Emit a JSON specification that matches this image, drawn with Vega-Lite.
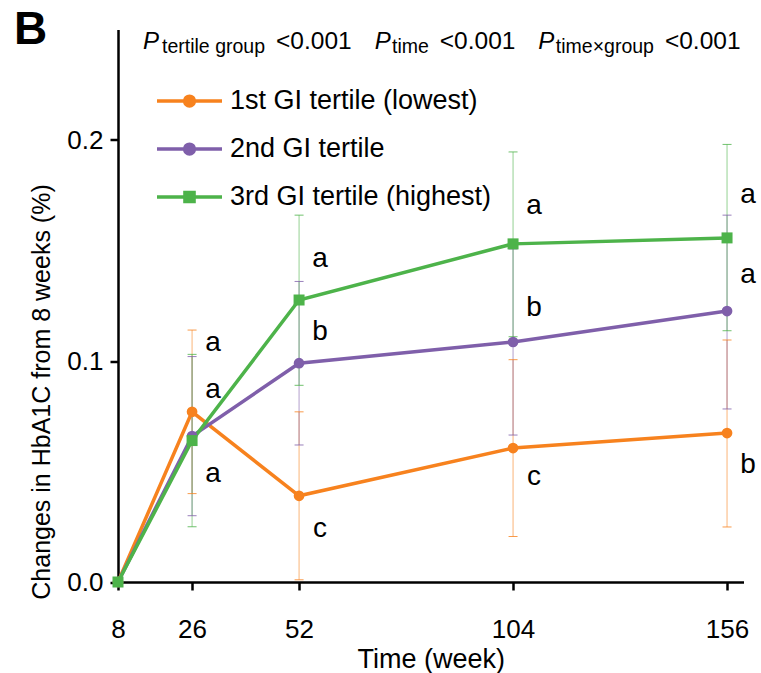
{
  "$schema": "https://vega.github.io/schema/vega-lite/v6.json",
  "width": 625.5,
  "height": 552.5,
  "autosize": "none",
  "padding": {"left": 118, "top": 29.5, "right": 17.5, "bottom": 91},
  "background": "white",
  "config": {
    "view": {"stroke": null},
    "font": "Liberation Sans",
    "axis": {"grid": false}
  },
  "title": {
    "text": "B",
    "anchor": "start",
    "frame": "group",
    "fontSize": 46,
    "fontWeight": "bold",
    "font": "Liberation Sans",
    "color": "black",
    "baseline": "alphabetic",
    "offset": 0,
    "dx": -104,
    "dy": 61.5
  },
  "datasets": {
    "series": [
      {"week": 8, "group": "1st GI tertile (lowest)", "value": 0},
      {"week": 26, "group": "1st GI tertile (lowest)", "value": 0.077, "lo": 0.040, "hi": 0.114},
      {"week": 52, "group": "1st GI tertile (lowest)", "value": 0.039, "lo": 0.001, "hi": 0.077},
      {"week": 104, "group": "1st GI tertile (lowest)", "value": 0.0606, "lo": 0.0206, "hi": 0.1006},
      {"week": 156, "group": "1st GI tertile (lowest)", "value": 0.0674, "lo": 0.0249, "hi": 0.1095},
      {"week": 8, "group": "2nd GI tertile", "value": 0},
      {"week": 26, "group": "2nd GI tertile", "value": 0.066, "lo": 0.030, "hi": 0.102},
      {"week": 52, "group": "2nd GI tertile", "value": 0.099, "lo": 0.062, "hi": 0.136},
      {"week": 104, "group": "2nd GI tertile", "value": 0.1086, "lo": 0.0665, "hi": 0.1507},
      {"week": 156, "group": "2nd GI tertile", "value": 0.1226, "lo": 0.0783, "hi": 0.166},
      {"week": 8, "group": "3rd GI tertile (highest)", "value": 0},
      {"week": 26, "group": "3rd GI tertile (highest)", "value": 0.064, "lo": 0.025, "hi": 0.103},
      {"week": 52, "group": "3rd GI tertile (highest)", "value": 0.1276, "lo": 0.089, "hi": 0.166},
      {"week": 104, "group": "3rd GI tertile (highest)", "value": 0.153, "lo": 0.111, "hi": 0.1946},
      {"week": 156, "group": "3rd GI tertile (highest)", "value": 0.1557, "lo": 0.1137, "hi": 0.198}
    ],
    "letters": [
      {"week": 26, "letter": "a", "ypos": 0.108},
      {"week": 26, "letter": "a", "ypos": 0.087},
      {"week": 26, "letter": "a", "ypos": 0.049},
      {"week": 52, "letter": "a", "ypos": 0.146},
      {"week": 52, "letter": "b", "ypos": 0.113},
      {"week": 52, "letter": "c", "ypos": 0.024},
      {"week": 104, "letter": "a", "ypos": 0.170},
      {"week": 104, "letter": "b", "ypos": 0.124},
      {"week": 104, "letter": "c", "ypos": 0.0475},
      {"week": 156, "letter": "a", "ypos": 0.175},
      {"week": 156, "letter": "a", "ypos": 0.139},
      {"week": 156, "letter": "b", "ypos": 0.053}
    ],
    "pvalues": [
      {"week": 14.1, "kind": "P", "piece": "P"},
      {"week": 18.7, "kind": "sub", "piece": "tertile group"},
      {"week": 46.4, "kind": "val", "piece": "<0.001"},
      {"week": 70.4, "kind": "P", "piece": "P"},
      {"week": 74.6, "kind": "sub", "piece": "time"},
      {"week": 86.2, "kind": "val", "piece": "<0.001"},
      {"week": 110.1, "kind": "P", "piece": "P"},
      {"week": 114.4, "kind": "sub", "piece": "time×group"},
      {"week": 140.9, "kind": "val", "piece": "<0.001"}
    ]
  },
  "layer": [
    {
      "data": {"name": "series"},
      "mark": {"type": "line", "strokeWidth": 3.5},
      "encoding": {
        "x": {"field": "week", "type": "quantitative", "scale": {"domain": [8, 160], "nice": false, "zero": false},
          "axis": {
            "values": [8, 26, 52, 104, 156], "title": "Time (week)",
            "titleFontSize": 27, "titleFontWeight": "normal", "titleColor": "black", "titlePadding": 4,
            "labelFontSize": 26, "labelColor": "black", "labelPadding": 26, "labelFlush": false,
            "domainColor": "black", "domainWidth": 2.5, "tickColor": "black", "tickWidth": 2.5, "tickSize": 8
          }
        },
        "y": {
          "field": "value", "type": "quantitative", "scale": {"domain": [0, 0.25], "nice": false},
          "axis": {
            "values": [0, 0.1, 0.2], "format": ".1f", "title": "Changes in HbA1C from 8 weeks (%)",
            "titleFontSize": 25, "titleFontWeight": "normal", "titleColor": "black", "titlePadding": 12, "titleY": 362,
            "labelFontSize": 26, "labelColor": "black", "labelPadding": 7,
            "domainColor": "black", "domainWidth": 2.5, "tickColor": "black", "tickWidth": 2.5, "tickSize": 8
          }
        },
        "color": {
          "field": "group", "type": "nominal",
          "scale": {"domain": ["1st GI tertile (lowest)", "2nd GI tertile", "3rd GI tertile (highest)"], "range": ["#F7821E", "#7F5FAA", "#4DB34A"]},
          "legend": {
            "title": null, "orient": "none", "legendX": 37, "legendY": 37, "padding": 0,
            "labelFontSize": 27, "labelColor": "black", "labelOffset": 6, "rowPadding": -16, "labelLimit": 0,
            "symbolSize": 4225, "symbolStrokeWidth": 3.5, "symbolOpacity": 1
          }
        }
      }
    },
    {
      "data": {"name": "series"},
      "mark": {"type": "rule", "strokeWidth": 1, "opacity": 0.6},
      "encoding": {
        "x": {"field": "week", "type": "quantitative"},
        "y": {"field": "lo", "type": "quantitative"},
        "y2": {"field": "hi"},
        "color": {"field": "group", "type": "nominal", "legend": null}
      }
    },
    {
      "data": {"name": "series"},
      "mark": {"type": "tick", "orient": "horizontal", "size": 9, "thickness": 1, "opacity": 0.8},
      "encoding": {
        "x": {"field": "week", "type": "quantitative"},
        "y": {"field": "lo", "type": "quantitative"},
        "color": {"field": "group", "type": "nominal", "legend": null}
      }
    },
    {
      "data": {"name": "series"},
      "mark": {"type": "tick", "orient": "horizontal", "size": 9, "thickness": 1, "opacity": 0.8},
      "encoding": {
        "x": {"field": "week", "type": "quantitative"},
        "y": {"field": "hi", "type": "quantitative"},
        "color": {"field": "group", "type": "nominal", "legend": null}
      }
    },
    {
      "data": {"name": "series"},
      "transform": [{"filter": "datum.group != '3rd GI tertile (highest)'"}],
      "mark": {"type": "point", "shape": "circle", "filled": true, "opacity": 1, "size": 115},
      "encoding": {
        "x": {"field": "week", "type": "quantitative"},
        "y": {"field": "value", "type": "quantitative"},
        "color": {"field": "group", "type": "nominal", "legend": null}
      }
    },
    {
      "data": {"name": "series"},
      "transform": [{"filter": "datum.group == '3rd GI tertile (highest)'"}],
      "mark": {"type": "point", "shape": "square", "filled": true, "opacity": 1, "size": 121},
      "encoding": {
        "x": {"field": "week", "type": "quantitative"},
        "y": {"field": "value", "type": "quantitative"},
        "color": {"field": "group", "type": "nominal", "legend": null}
      }
    },
    {
      "data": {"name": "series"},
      "mark": {"type": "point", "filled": true, "opacity": 0, "size": 10},
      "encoding": {
        "x": {"field": "week", "type": "quantitative"},
        "y": {"field": "value", "type": "quantitative"},
        "color": {"field": "group", "type": "nominal"},
        "shape": {
          "field": "group", "type": "nominal", "legend": null,
          "scale": {
            "domain": ["1st GI tertile (lowest)", "2nd GI tertile", "3rd GI tertile (highest)"],
            "range": [
              "M-1,0L1,0M-0.15,0A0.15,0.15 0 1,1 0.15,0A0.15,0.15 0 1,1 -0.15,0Z",
              "M-1,0L1,0M-0.15,0A0.15,0.15 0 1,1 0.15,0A0.15,0.15 0 1,1 -0.15,0Z",
              "M-1,0L1,0M-0.14,-0.14L0.14,-0.14L0.14,0.14L-0.14,0.14Z"
            ]
          }
        }
      }
    },
    {
      "data": {"name": "letters"},
      "mark": {"type": "text", "fontSize": 28, "color": "black", "dx": 21, "align": "center", "baseline": "middle"},
      "encoding": {
        "x": {"field": "week", "type": "quantitative"},
        "y": {"field": "ypos", "type": "quantitative"},
        "text": {"field": "letter"}
      }
    },
    {
      "data": {"name": "pvalues"},
      "transform": [{"filter": "datum.kind == 'P'"}],
      "mark": {"type": "text", "fontSize": 24, "fontStyle": "italic", "color": "black", "align": "left", "baseline": "alphabetic"},
      "encoding": {
        "x": {"field": "week", "type": "quantitative"},
        "y": {"datum": 0.2414, "type": "quantitative"},
        "text": {"field": "piece"}
      }
    },
    {
      "data": {"name": "pvalues"},
      "transform": [{"filter": "datum.kind == 'sub'"}],
      "mark": {"type": "text", "fontSize": 19.5, "color": "black", "align": "left", "baseline": "alphabetic"},
      "encoding": {
        "x": {"field": "week", "type": "quantitative"},
        "y": {"datum": 0.2393, "type": "quantitative"},
        "text": {"field": "piece"}
      }
    },
    {
      "data": {"name": "pvalues"},
      "transform": [{"filter": "datum.kind == 'val'"}],
      "mark": {"type": "text", "fontSize": 24.5, "color": "black", "align": "left", "baseline": "alphabetic"},
      "encoding": {
        "x": {"field": "week", "type": "quantitative"},
        "y": {"datum": 0.2414, "type": "quantitative"},
        "text": {"field": "piece"}
      }
    }
  ]
}
